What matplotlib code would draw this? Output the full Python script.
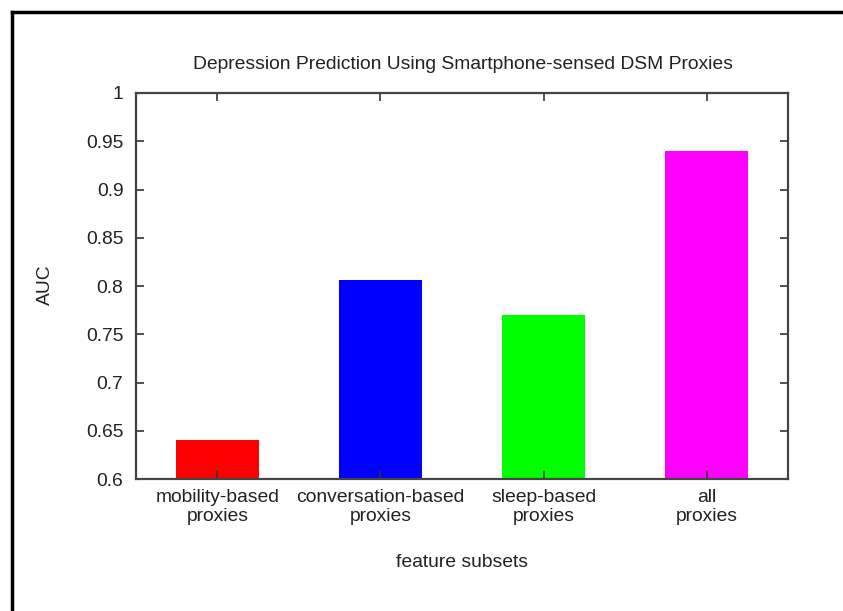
import matplotlib
matplotlib.use('Agg')
import matplotlib.pyplot as plt
from matplotlib.lines import Line2D

# data
categories = ['mobility-based\nproxies', 'conversation-based\nproxies',
              'sleep-based\nproxies', 'all\nproxies']
auc = [0.64, 0.806, 0.77, 0.94]
colors = ['#ff0000', '#0000ff', '#00ff00', '#ff00ff']
yticks = [0.6, 0.65, 0.7, 0.75, 0.8, 0.85, 0.9, 0.95, 1.0]
ytick_labels = ['0.6', '0.65', '0.7', '0.75', '0.8', '0.85', '0.9', '0.95', '1']

plt.rcParams['font.family'] = ['Liberation Sans', 'DejaVu Sans']
plt.rcParams['font.size'] = 13.9

fig = plt.figure(figsize=(8.43, 6.11), dpi=100)
ax = fig.add_axes([0.1613, 0.2160, 0.7735, 0.6318])

x = range(len(categories))
ax.bar(x, auc, width=0.51, color=colors)

ax.set_xlim(-0.5, 3.5)
ax.set_ylim(0.6, 1.0)
ax.set_xticks(list(x))
ax.set_xticklabels(categories, linespacing=1.15)
ax.set_yticks(yticks)
ax.set_yticklabels(ytick_labels)
ax.tick_params(direction='in', length=6, width=1.2, color='#333333',
               top=True, right=True, labelcolor='#222222')
ax.tick_params(axis='y', pad=9)
ax.tick_params(axis='x', pad=7)
for s in ax.spines.values():
    s.set_color('#444444')
    s.set_linewidth(1.6)

fig.text(0.549, 0.895, 'Depression Prediction Using Smartphone-sensed DSM Proxies',
         ha='center', va='center', color='#222222')
fig.text(0.548, 0.0786, 'feature subsets', ha='center', va='center', color='#222222')
fig.text(0.0545, 0.534, 'AUC', ha='center', va='center', rotation=90, color='#222222')

# outer frame (top and left edges visible in the reference)
fig.add_artist(Line2D([0.0148, 1.0], [0.980, 0.980], color='black', lw=2.5,
                      transform=fig.transFigure))
fig.add_artist(Line2D([0.0148, 0.0148], [0.0, 0.980], color='black', lw=2.5,
                      transform=fig.transFigure))

fig.savefig('out.png', dpi=100)
